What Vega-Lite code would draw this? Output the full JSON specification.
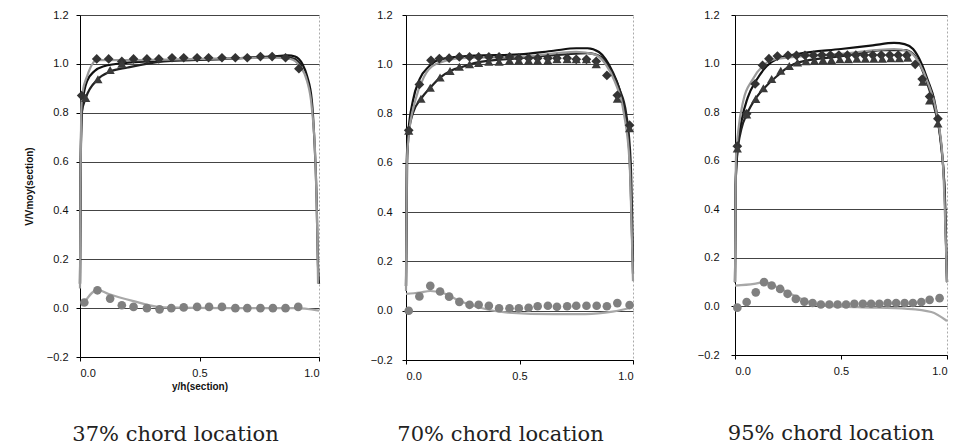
{
"$schema": "https://vega.github.io/schema/vega-lite/v6.json",
"padding": {"left": 23, "top": 8, "right": 0, "bottom": 0},
"background": "white",
"config": {
  "view": {"stroke": "#aaaaaa", "strokeDash": [2, 2]},
  "axis": {"domainColor": "#000", "tickColor": "#000", "tickSize": 4, "labelFont": "Liberation Sans", "labelFontSize": 11, "labelColor": "#111", "titleFont": "Liberation Sans", "titleFontSize": 10, "titleFontWeight": "bold", "titleColor": "#111"},
  "title": {"font": "DejaVu Serif", "fontSize": 21, "fontWeight": "normal", "color": "#222"}
},
"spacing": 58,
"datasets": {"d": [
{"p":"37","s":"calcA","x":0.0,"y":0.1},{"p":"37","s":"calcA","x":0.002,"y":0.5},{"p":"37","s":"calcA","x":0.006,"y":0.75},{"p":"37","s":"calcA","x":0.012,"y":0.85},{"p":"37","s":"calcA","x":0.03,"y":0.93},{"p":"37","s":"calcA","x":0.06,"y":0.97},{"p":"37","s":"calcA","x":0.1,"y":0.99},{"p":"37","s":"calcA","x":0.2,"y":1.005},{"p":"37","s":"calcA","x":0.4,"y":1.015},{"p":"37","s":"calcA","x":0.6,"y":1.02},{"p":"37","s":"calcA","x":0.8,"y":1.03},{"p":"37","s":"calcA","x":0.87,"y":1.035},{"p":"37","s":"calcA","x":0.9,"y":1.03},{"p":"37","s":"calcA","x":0.93,"y":1.0},{"p":"37","s":"calcA","x":0.95,"y":0.95},{"p":"37","s":"calcA","x":0.97,"y":0.85},{"p":"37","s":"calcA","x":0.98,"y":0.7},{"p":"37","s":"calcA","x":0.99,"y":0.45},{"p":"37","s":"calcA","x":0.995,"y":0.2},{"p":"37","s":"calcA","x":1.0,"y":0.1},
{"p":"37","s":"calcB","x":0.0,"y":0.1},{"p":"37","s":"calcB","x":0.003,"y":0.6},{"p":"37","s":"calcB","x":0.007,"y":0.8},{"p":"37","s":"calcB","x":0.024,"y":0.86},{"p":"37","s":"calcB","x":0.075,"y":0.937},{"p":"37","s":"calcB","x":0.126,"y":0.968},{"p":"37","s":"calcB","x":0.2,"y":0.985},{"p":"37","s":"calcB","x":0.35,"y":1.01},{"p":"37","s":"calcB","x":0.6,"y":1.02},{"p":"37","s":"calcB","x":0.85,"y":1.03},{"p":"37","s":"calcB","x":0.9,"y":1.02},{"p":"37","s":"calcB","x":0.93,"y":0.99},
{"p":"37","s":"calcG","x":0.0,"y":0.08},{"p":"37","s":"calcG","x":0.002,"y":0.5},{"p":"37","s":"calcG","x":0.005,"y":0.8},{"p":"37","s":"calcG","x":0.01,"y":0.88},{"p":"37","s":"calcG","x":0.03,"y":0.95},{"p":"37","s":"calcG","x":0.07,"y":1.015},{"p":"37","s":"calcG","x":0.2,"y":1.015},{"p":"37","s":"calcG","x":0.5,"y":1.02},{"p":"37","s":"calcG","x":0.8,"y":1.025},{"p":"37","s":"calcG","x":0.88,"y":1.02},{"p":"37","s":"calcG","x":0.92,"y":0.99},{"p":"37","s":"calcG","x":0.95,"y":0.93},{"p":"37","s":"calcG","x":0.97,"y":0.82},{"p":"37","s":"calcG","x":0.985,"y":0.6},{"p":"37","s":"calcG","x":0.993,"y":0.3},{"p":"37","s":"calcG","x":0.996,"y":0.1},
{"p":"37","s":"calcL","x":0.018,"y":0.023},{"p":"37","s":"calcL","x":0.073,"y":0.075},{"p":"37","s":"calcL","x":0.12,"y":0.058},{"p":"37","s":"calcL","x":0.22,"y":0.03},{"p":"37","s":"calcL","x":0.35,"y":0.003},{"p":"37","s":"calcL","x":0.6,"y":0.0},{"p":"37","s":"calcL","x":0.9,"y":0.0},{"p":"37","s":"calcL","x":1.0,"y":-0.01},
{"p":"37","s":"diamond","x":0.007,"y":0.87},{"p":"37","s":"diamond","x":0.07,"y":1.02},{"p":"37","s":"diamond","x":0.12,"y":1.02},{"p":"37","s":"diamond","x":0.175,"y":1.01},{"p":"37","s":"diamond","x":0.224,"y":1.02},{"p":"37","s":"diamond","x":0.28,"y":1.02},{"p":"37","s":"diamond","x":0.33,"y":1.02},{"p":"37","s":"diamond","x":0.385,"y":1.025},{"p":"37","s":"diamond","x":0.434,"y":1.025},{"p":"37","s":"diamond","x":0.49,"y":1.025},{"p":"37","s":"diamond","x":0.538,"y":1.025},{"p":"37","s":"diamond","x":0.594,"y":1.025},{"p":"37","s":"diamond","x":0.65,"y":1.025},{"p":"37","s":"diamond","x":0.7,"y":1.025},{"p":"37","s":"diamond","x":0.755,"y":1.03},{"p":"37","s":"diamond","x":0.804,"y":1.03},{"p":"37","s":"diamond","x":0.86,"y":1.025},{"p":"37","s":"diamond","x":0.916,"y":0.98},
{"p":"37","s":"triangle","x":0.024,"y":0.86},{"p":"37","s":"triangle","x":0.075,"y":0.937},{"p":"37","s":"triangle","x":0.126,"y":0.975},{"p":"37","s":"triangle","x":0.175,"y":1.0},
{"p":"37","s":"circle","x":0.018,"y":0.023},{"p":"37","s":"circle","x":0.073,"y":0.073},{"p":"37","s":"circle","x":0.126,"y":0.039},{"p":"37","s":"circle","x":0.175,"y":0.012},{"p":"37","s":"circle","x":0.224,"y":0.005},{"p":"37","s":"circle","x":0.28,"y":0.0},{"p":"37","s":"circle","x":0.333,"y":-0.005},{"p":"37","s":"circle","x":0.382,"y":0.0},{"p":"37","s":"circle","x":0.434,"y":0.003},{"p":"37","s":"circle","x":0.49,"y":0.005},{"p":"37","s":"circle","x":0.54,"y":0.005},{"p":"37","s":"circle","x":0.594,"y":0.005},{"p":"37","s":"circle","x":0.65,"y":0.0},{"p":"37","s":"circle","x":0.7,"y":0.0},{"p":"37","s":"circle","x":0.755,"y":0.0},{"p":"37","s":"circle","x":0.807,"y":0.0},{"p":"37","s":"circle","x":0.86,"y":0.0},{"p":"37","s":"circle","x":0.913,"y":0.005},

{"p":"70","s":"calcA","x":0.0,"y":0.1},{"p":"70","s":"calcA","x":0.003,"y":0.6},{"p":"70","s":"calcA","x":0.01,"y":0.72},{"p":"70","s":"calcA","x":0.03,"y":0.85},{"p":"70","s":"calcA","x":0.06,"y":0.94},{"p":"70","s":"calcA","x":0.1,"y":0.99},{"p":"70","s":"calcA","x":0.15,"y":1.02},{"p":"70","s":"calcA","x":0.3,"y":1.035},{"p":"70","s":"calcA","x":0.5,"y":1.04},{"p":"70","s":"calcA","x":0.65,"y":1.055},{"p":"70","s":"calcA","x":0.75,"y":1.065},{"p":"70","s":"calcA","x":0.8,"y":1.065},{"p":"70","s":"calcA","x":0.85,"y":1.05},{"p":"70","s":"calcA","x":0.88,"y":1.02},{"p":"70","s":"calcA","x":0.91,"y":0.97},{"p":"70","s":"calcA","x":0.94,"y":0.9},{"p":"70","s":"calcA","x":0.965,"y":0.8},{"p":"70","s":"calcA","x":0.98,"y":0.7},{"p":"70","s":"calcA","x":0.99,"y":0.5},{"p":"70","s":"calcA","x":1.0,"y":0.15},
{"p":"70","s":"calcB","x":0.0,"y":0.1},{"p":"70","s":"calcB","x":0.005,"y":0.6},{"p":"70","s":"calcB","x":0.012,"y":0.72},{"p":"70","s":"calcB","x":0.03,"y":0.8},{"p":"70","s":"calcB","x":0.066,"y":0.86},{"p":"70","s":"calcB","x":0.107,"y":0.905},{"p":"70","s":"calcB","x":0.15,"y":0.946},{"p":"70","s":"calcB","x":0.2,"y":0.975},{"p":"70","s":"calcB","x":0.25,"y":0.99},{"p":"70","s":"calcB","x":0.3,"y":1.005},{"p":"70","s":"calcB","x":0.5,"y":1.025},{"p":"70","s":"calcB","x":0.7,"y":1.04},{"p":"70","s":"calcB","x":0.8,"y":1.045},{"p":"70","s":"calcB","x":0.86,"y":1.03},{"p":"70","s":"calcB","x":0.9,"y":0.98},{"p":"70","s":"calcB","x":0.94,"y":0.9},{"p":"70","s":"calcB","x":0.97,"y":0.8},{"p":"70","s":"calcB","x":0.99,"y":0.6},{"p":"70","s":"calcB","x":1.0,"y":0.2},
{"p":"70","s":"calcG","x":0.0,"y":0.08},{"p":"70","s":"calcG","x":0.004,"y":0.6},{"p":"70","s":"calcG","x":0.012,"y":0.71},{"p":"70","s":"calcG","x":0.04,"y":0.85},{"p":"70","s":"calcG","x":0.08,"y":0.95},{"p":"70","s":"calcG","x":0.13,"y":1.0},{"p":"70","s":"calcG","x":0.25,"y":1.025},{"p":"70","s":"calcG","x":0.5,"y":1.03},{"p":"70","s":"calcG","x":0.75,"y":1.05},{"p":"70","s":"calcG","x":0.83,"y":1.04},{"p":"70","s":"calcG","x":0.88,"y":1.0},{"p":"70","s":"calcG","x":0.92,"y":0.93},{"p":"70","s":"calcG","x":0.96,"y":0.8},{"p":"70","s":"calcG","x":0.985,"y":0.6},{"p":"70","s":"calcG","x":0.995,"y":0.3},{"p":"70","s":"calcG","x":1.0,"y":0.12},
{"p":"70","s":"calcL","x":0.0,"y":0.068},{"p":"70","s":"calcL","x":0.06,"y":0.074},{"p":"70","s":"calcL","x":0.107,"y":0.08},{"p":"70","s":"calcL","x":0.176,"y":0.068},{"p":"70","s":"calcL","x":0.235,"y":0.04},{"p":"70","s":"calcL","x":0.32,"y":0.014},{"p":"70","s":"calcL","x":0.44,"y":-0.007},{"p":"70","s":"calcL","x":0.65,"y":-0.014},{"p":"70","s":"calcL","x":0.79,"y":-0.014},{"p":"70","s":"calcL","x":0.91,"y":-0.004},{"p":"70","s":"calcL","x":1.0,"y":0.014},
{"p":"70","s":"diamond","x":0.012,"y":0.732},{"p":"70","s":"diamond","x":0.059,"y":0.918},{"p":"70","s":"diamond","x":0.11,"y":1.016},{"p":"70","s":"diamond","x":0.147,"y":1.023},{"p":"70","s":"diamond","x":0.19,"y":1.025},{"p":"70","s":"diamond","x":0.235,"y":1.03},{"p":"70","s":"diamond","x":0.28,"y":1.03},{"p":"70","s":"diamond","x":0.32,"y":1.03},{"p":"70","s":"diamond","x":0.365,"y":1.03},{"p":"70","s":"diamond","x":0.41,"y":1.03},{"p":"70","s":"diamond","x":0.456,"y":1.03},{"p":"70","s":"diamond","x":0.497,"y":1.025},{"p":"70","s":"diamond","x":0.54,"y":1.025},{"p":"70","s":"diamond","x":0.58,"y":1.025},{"p":"70","s":"diamond","x":0.625,"y":1.025},{"p":"70","s":"diamond","x":0.665,"y":1.025},{"p":"70","s":"diamond","x":0.71,"y":1.025},{"p":"70","s":"diamond","x":0.75,"y":1.02},{"p":"70","s":"diamond","x":0.795,"y":1.02},{"p":"70","s":"diamond","x":0.838,"y":1.012},{"p":"70","s":"diamond","x":0.885,"y":0.955},{"p":"70","s":"diamond","x":0.931,"y":0.874},{"p":"70","s":"diamond","x":0.985,"y":0.753},
{"p":"70","s":"triangle","x":0.012,"y":0.73},{"p":"70","s":"triangle","x":0.066,"y":0.86},{"p":"70","s":"triangle","x":0.107,"y":0.905},{"p":"70","s":"triangle","x":0.15,"y":0.946},{"p":"70","s":"triangle","x":0.194,"y":0.973},{"p":"70","s":"triangle","x":0.235,"y":0.99},{"p":"70","s":"triangle","x":0.28,"y":1.0},{"p":"70","s":"triangle","x":0.32,"y":1.005},{"p":"70","s":"triangle","x":0.365,"y":1.01},{"p":"70","s":"triangle","x":0.41,"y":1.01},{"p":"70","s":"triangle","x":0.456,"y":1.015},{"p":"70","s":"triangle","x":0.497,"y":1.015},{"p":"70","s":"triangle","x":0.54,"y":1.015},{"p":"70","s":"triangle","x":0.58,"y":1.015},{"p":"70","s":"triangle","x":0.625,"y":1.015},{"p":"70","s":"triangle","x":0.665,"y":1.02},{"p":"70","s":"triangle","x":0.71,"y":1.02},{"p":"70","s":"triangle","x":0.75,"y":1.02},{"p":"70","s":"triangle","x":0.795,"y":1.02},{"p":"70","s":"triangle","x":0.838,"y":1.0},{"p":"70","s":"triangle","x":0.931,"y":0.86},{"p":"70","s":"triangle","x":0.985,"y":0.74},
{"p":"70","s":"circle","x":0.012,"y":0.0},{"p":"70","s":"circle","x":0.059,"y":0.058},{"p":"70","s":"circle","x":0.107,"y":0.101},{"p":"70","s":"circle","x":0.15,"y":0.078},{"p":"70","s":"circle","x":0.19,"y":0.057},{"p":"70","s":"circle","x":0.235,"y":0.036},{"p":"70","s":"circle","x":0.28,"y":0.024},{"p":"70","s":"circle","x":0.32,"y":0.024},{"p":"70","s":"circle","x":0.365,"y":0.02},{"p":"70","s":"circle","x":0.41,"y":0.01},{"p":"70","s":"circle","x":0.456,"y":0.01},{"p":"70","s":"circle","x":0.497,"y":0.01},{"p":"70","s":"circle","x":0.54,"y":0.012},{"p":"70","s":"circle","x":0.58,"y":0.018},{"p":"70","s":"circle","x":0.625,"y":0.02},{"p":"70","s":"circle","x":0.665,"y":0.016},{"p":"70","s":"circle","x":0.71,"y":0.018},{"p":"70","s":"circle","x":0.75,"y":0.02},{"p":"70","s":"circle","x":0.795,"y":0.02},{"p":"70","s":"circle","x":0.84,"y":0.02},{"p":"70","s":"circle","x":0.885,"y":0.018},{"p":"70","s":"circle","x":0.931,"y":0.031},{"p":"70","s":"circle","x":0.985,"y":0.023},

{"p":"95","s":"calcA","x":0.0,"y":0.1},{"p":"95","s":"calcA","x":0.003,"y":0.5},{"p":"95","s":"calcA","x":0.01,"y":0.63},{"p":"95","s":"calcA","x":0.03,"y":0.76},{"p":"95","s":"calcA","x":0.06,"y":0.86},{"p":"95","s":"calcA","x":0.1,"y":0.93},{"p":"95","s":"calcA","x":0.15,"y":0.99},{"p":"95","s":"calcA","x":0.2,"y":1.02},{"p":"95","s":"calcA","x":0.3,"y":1.04},{"p":"95","s":"calcA","x":0.5,"y":1.06},{"p":"95","s":"calcA","x":0.65,"y":1.075},{"p":"95","s":"calcA","x":0.75,"y":1.085},{"p":"95","s":"calcA","x":0.8,"y":1.08},{"p":"95","s":"calcA","x":0.84,"y":1.06},{"p":"95","s":"calcA","x":0.88,"y":1.0},{"p":"95","s":"calcA","x":0.91,"y":0.93},{"p":"95","s":"calcA","x":0.94,"y":0.85},{"p":"95","s":"calcA","x":0.96,"y":0.75},{"p":"95","s":"calcA","x":0.98,"y":0.6},{"p":"95","s":"calcA","x":0.99,"y":0.45},{"p":"95","s":"calcA","x":1.0,"y":0.1},
{"p":"95","s":"calcB","x":0.0,"y":0.1},{"p":"95","s":"calcB","x":0.003,"y":0.5},{"p":"95","s":"calcB","x":0.01,"y":0.62},{"p":"95","s":"calcB","x":0.03,"y":0.73},{"p":"95","s":"calcB","x":0.055,"y":0.79},{"p":"95","s":"calcB","x":0.1,"y":0.86},{"p":"95","s":"calcB","x":0.15,"y":0.91},{"p":"95","s":"calcB","x":0.2,"y":0.95},{"p":"95","s":"calcB","x":0.25,"y":0.985},{"p":"95","s":"calcB","x":0.3,"y":1.005},{"p":"95","s":"calcB","x":0.5,"y":1.03},{"p":"95","s":"calcB","x":0.7,"y":1.055},{"p":"95","s":"calcB","x":0.8,"y":1.055},{"p":"95","s":"calcB","x":0.84,"y":1.04},{"p":"95","s":"calcB","x":0.88,"y":0.98},{"p":"95","s":"calcB","x":0.91,"y":0.91},{"p":"95","s":"calcB","x":0.94,"y":0.82},{"p":"95","s":"calcB","x":0.97,"y":0.68},{"p":"95","s":"calcB","x":0.99,"y":0.45},{"p":"95","s":"calcB","x":1.0,"y":0.1},
{"p":"95","s":"calcG","x":0.0,"y":0.1},{"p":"95","s":"calcG","x":0.004,"y":0.6},{"p":"95","s":"calcG","x":0.015,"y":0.72},{"p":"95","s":"calcG","x":0.04,"y":0.85},{"p":"95","s":"calcG","x":0.08,"y":0.93},{"p":"95","s":"calcG","x":0.13,"y":0.99},{"p":"95","s":"calcG","x":0.2,"y":1.02},{"p":"95","s":"calcG","x":0.5,"y":1.04},{"p":"95","s":"calcG","x":0.75,"y":1.06},{"p":"95","s":"calcG","x":0.82,"y":1.05},{"p":"95","s":"calcG","x":0.87,"y":1.0},{"p":"95","s":"calcG","x":0.91,"y":0.92},{"p":"95","s":"calcG","x":0.95,"y":0.8},{"p":"95","s":"calcG","x":0.98,"y":0.6},{"p":"95","s":"calcG","x":1.0,"y":0.1},
{"p":"95","s":"calcL","x":0.0,"y":0.086},{"p":"95","s":"calcL","x":0.09,"y":0.093},{"p":"95","s":"calcL","x":0.137,"y":0.1},{"p":"95","s":"calcL","x":0.2,"y":0.079},{"p":"95","s":"calcL","x":0.295,"y":0.038},{"p":"95","s":"calcL","x":0.405,"y":0.004},{"p":"95","s":"calcL","x":0.58,"y":-0.003},{"p":"95","s":"calcL","x":0.815,"y":-0.01},{"p":"95","s":"calcL","x":0.926,"y":-0.023},{"p":"95","s":"calcL","x":1.0,"y":-0.06},
{"p":"95","s":"diamond","x":0.011,"y":0.66},{"p":"95","s":"diamond","x":0.055,"y":0.793},{"p":"95","s":"diamond","x":0.095,"y":0.916},{"p":"95","s":"diamond","x":0.13,"y":0.993},{"p":"95","s":"diamond","x":0.16,"y":1.02},{"p":"95","s":"diamond","x":0.2,"y":1.031},{"p":"95","s":"diamond","x":0.25,"y":1.034},{"p":"95","s":"diamond","x":0.29,"y":1.034},{"p":"95","s":"diamond","x":0.33,"y":1.034},{"p":"95","s":"diamond","x":0.37,"y":1.034},{"p":"95","s":"diamond","x":0.41,"y":1.035},{"p":"95","s":"diamond","x":0.45,"y":1.035},{"p":"95","s":"diamond","x":0.49,"y":1.035},{"p":"95","s":"diamond","x":0.53,"y":1.035},{"p":"95","s":"diamond","x":0.57,"y":1.035},{"p":"95","s":"diamond","x":0.61,"y":1.035},{"p":"95","s":"diamond","x":0.65,"y":1.035},{"p":"95","s":"diamond","x":0.69,"y":1.035},{"p":"95","s":"diamond","x":0.73,"y":1.035},{"p":"95","s":"diamond","x":0.77,"y":1.035},{"p":"95","s":"diamond","x":0.81,"y":1.034},{"p":"95","s":"diamond","x":0.85,"y":0.997},{"p":"95","s":"diamond","x":0.883,"y":0.936},{"p":"95","s":"diamond","x":0.918,"y":0.864},{"p":"95","s":"diamond","x":0.957,"y":0.773},
{"p":"95","s":"triangle","x":0.011,"y":0.65},{"p":"95","s":"triangle","x":0.055,"y":0.79},{"p":"95","s":"triangle","x":0.098,"y":0.854},{"p":"95","s":"triangle","x":0.134,"y":0.898},{"p":"95","s":"triangle","x":0.173,"y":0.936},{"p":"95","s":"triangle","x":0.216,"y":0.97},{"p":"95","s":"triangle","x":0.256,"y":0.99},{"p":"95","s":"triangle","x":0.295,"y":1.004},{"p":"95","s":"triangle","x":0.335,"y":1.01},{"p":"95","s":"triangle","x":0.375,"y":1.012},{"p":"95","s":"triangle","x":0.415,"y":1.015},{"p":"95","s":"triangle","x":0.455,"y":1.015},{"p":"95","s":"triangle","x":0.495,"y":1.018},{"p":"95","s":"triangle","x":0.535,"y":1.018},{"p":"95","s":"triangle","x":0.575,"y":1.02},{"p":"95","s":"triangle","x":0.615,"y":1.02},{"p":"95","s":"triangle","x":0.655,"y":1.02},{"p":"95","s":"triangle","x":0.695,"y":1.02},{"p":"95","s":"triangle","x":0.735,"y":1.022},{"p":"95","s":"triangle","x":0.775,"y":1.022},{"p":"95","s":"triangle","x":0.815,"y":1.024},{"p":"95","s":"triangle","x":0.886,"y":0.925},{"p":"95","s":"triangle","x":0.918,"y":0.848},{"p":"95","s":"triangle","x":0.957,"y":0.753},
{"p":"95","s":"circle","x":0.011,"y":-0.005},{"p":"95","s":"circle","x":0.055,"y":0.018},{"p":"95","s":"circle","x":0.098,"y":0.058},{"p":"95","s":"circle","x":0.137,"y":0.1},{"p":"95","s":"circle","x":0.173,"y":0.086},{"p":"95","s":"circle","x":0.213,"y":0.072},{"p":"95","s":"circle","x":0.248,"y":0.052},{"p":"95","s":"circle","x":0.287,"y":0.031},{"p":"95","s":"circle","x":0.327,"y":0.02},{"p":"95","s":"circle","x":0.366,"y":0.014},{"p":"95","s":"circle","x":0.405,"y":0.008},{"p":"95","s":"circle","x":0.445,"y":0.008},{"p":"95","s":"circle","x":0.484,"y":0.008},{"p":"95","s":"circle","x":0.524,"y":0.008},{"p":"95","s":"circle","x":0.563,"y":0.011},{"p":"95","s":"circle","x":0.603,"y":0.011},{"p":"95","s":"circle","x":0.642,"y":0.011},{"p":"95","s":"circle","x":0.681,"y":0.011},{"p":"95","s":"circle","x":0.72,"y":0.014},{"p":"95","s":"circle","x":0.76,"y":0.014},{"p":"95","s":"circle","x":0.8,"y":0.014},{"p":"95","s":"circle","x":0.839,"y":0.014},{"p":"95","s":"circle","x":0.879,"y":0.018},{"p":"95","s":"circle","x":0.918,"y":0.027},{"p":"95","s":"circle","x":0.965,"y":0.034}
]},
"hconcat": [
{
"spacing": 45,
"hconcat": [
{
  "width": 239, "height": 342,
  "title": {"text": "37% chord location", "orient": "bottom", "offset": 33, "anchor": "middle", "dx": -24},
  "data": {"name": "d"},
  "transform": [{"filter": "datum.p == '37'"}],
  "encoding": {
    "x": {"field": "x", "type": "quantitative", "scale": {"domain": [0, 1], "nice": false, "zero": false}, "axis": {"values": [0, 0.5, 1], "format": ".1f", "grid": false, "title": "y/h(section)", "labelPadding": 6, "titlePadding": 3}},
    "y": {"field": "y", "type": "quantitative", "scale": {"domain": [-0.2, 1.2], "nice": false, "zero": false}, "axis": {"values": [-0.2, 0, 0.2, 0.4, 0.6, 0.8, 1, 1.2], "format": ".1f", "grid": true, "gridColor": "#444", "title": "V/Vmoy(section)", "labelPadding": 8, "titlePadding": 12}}
  },
  "layer": [
    {"transform": [{"filter": "indexof(['calcA','calcB','calcG','calcL'], datum.s) >= 0"}], "mark": {"type": "line", "interpolate": "monotone", "strokeWidth": 2.2}, "encoding": {"color": {"field": "s", "type": "nominal", "legend": null, "scale": {"domain": ["calcA","calcB","calcG","calcL","diamond","triangle","circle"], "range": ["#111111","#222222","#9a9a9a","#a8a8a8","#333333","#3a3a3a","#808080"]}}}},
    {"transform": [{"filter": "indexof(['diamond','triangle','circle'], datum.s) >= 0"}], "mark": {"type": "point", "filled": true, "opacity": 1}, "encoding": {"color": {"field": "s", "type": "nominal", "legend": null, "scale": {"domain": ["calcA","calcB","calcG","calcL","diamond","triangle","circle"], "range": ["#111111","#222222","#9a9a9a","#a8a8a8","#333333","#3a3a3a","#808080"]}}, "shape": {"field": "s", "type": "nominal", "legend": null, "scale": {"domain": ["diamond","triangle","circle"], "range": ["diamond","triangle-up","circle"]}}, "size": {"field": "s", "type": "nominal", "legend": null, "scale": {"domain": ["diamond","triangle","circle"], "range": [95, 75, 75]}}}}
  ]
},
{
  "width": 227, "height": 345,
  "title": {"text": "70% chord location", "orient": "bottom", "offset": 43, "anchor": "middle", "dx": -19},
  "data": {"name": "d"},
  "transform": [{"filter": "datum.p == '70'"}],
  "encoding": {
    "x": {"field": "x", "type": "quantitative", "scale": {"domain": [0, 1], "nice": false, "zero": false}, "axis": {"values": [0, 0.5, 1], "format": ".1f", "grid": false, "title": null, "labelPadding": 6}},
    "y": {"field": "y", "type": "quantitative", "scale": {"domain": [-0.2, 1.2], "nice": false, "zero": false}, "axis": {"values": [-0.2, 0, 0.2, 0.4, 0.6, 0.8, 1, 1.2], "format": ".1f", "grid": true, "gridColor": "#444", "title": null, "labelPadding": 10}}
  },
  "layer": [
    {"transform": [{"filter": "indexof(['calcA','calcB','calcG','calcL'], datum.s) >= 0"}], "mark": {"type": "line", "interpolate": "monotone", "strokeWidth": 2.2}, "encoding": {"color": {"field": "s", "type": "nominal", "legend": null, "scale": {"domain": ["calcA","calcB","calcG","calcL","diamond","triangle","circle"], "range": ["#111111","#222222","#9a9a9a","#a8a8a8","#333333","#3a3a3a","#808080"]}}}},
    {"transform": [{"filter": "indexof(['diamond','triangle','circle'], datum.s) >= 0"}], "mark": {"type": "point", "filled": true, "opacity": 1}, "encoding": {"color": {"field": "s", "type": "nominal", "legend": null, "scale": {"domain": ["calcA","calcB","calcG","calcL","diamond","triangle","circle"], "range": ["#111111","#222222","#9a9a9a","#a8a8a8","#333333","#3a3a3a","#808080"]}}, "shape": {"field": "s", "type": "nominal", "legend": null, "scale": {"domain": ["diamond","triangle","circle"], "range": ["diamond","triangle-up","circle"]}}, "size": {"field": "s", "type": "nominal", "legend": null, "scale": {"domain": ["diamond","triangle","circle"], "range": [95, 75, 75]}}}}
  ]
}
]
},
{
  "width": 212, "height": 340,
  "title": {"text": "95% chord location", "orient": "bottom", "offset": 47, "anchor": "middle", "dx": -10},
  "data": {"name": "d"},
  "transform": [{"filter": "datum.p == '95'"}],
  "encoding": {
    "x": {"field": "x", "type": "quantitative", "scale": {"domain": [0, 1], "nice": false, "zero": false}, "axis": {"values": [0, 0.5, 1], "format": ".1f", "grid": false, "title": null, "labelPadding": 6}},
    "y": {"field": "y", "type": "quantitative", "scale": {"domain": [-0.2, 1.2], "nice": false, "zero": false}, "axis": {"values": [-0.2, 0, 0.2, 0.4, 0.6, 0.8, 1, 1.2], "format": ".1f", "grid": true, "gridColor": "#444", "title": null, "labelPadding": 12}}
  },
  "layer": [
    {"transform": [{"filter": "indexof(['calcA','calcB','calcG','calcL'], datum.s) >= 0"}], "mark": {"type": "line", "interpolate": "monotone", "strokeWidth": 2.2}, "encoding": {"color": {"field": "s", "type": "nominal", "legend": null, "scale": {"domain": ["calcA","calcB","calcG","calcL","diamond","triangle","circle"], "range": ["#111111","#222222","#9a9a9a","#a8a8a8","#333333","#3a3a3a","#808080"]}}}},
    {"transform": [{"filter": "indexof(['diamond','triangle','circle'], datum.s) >= 0"}], "mark": {"type": "point", "filled": true, "opacity": 1}, "encoding": {"color": {"field": "s", "type": "nominal", "legend": null, "scale": {"domain": ["calcA","calcB","calcG","calcL","diamond","triangle","circle"], "range": ["#111111","#222222","#9a9a9a","#a8a8a8","#333333","#3a3a3a","#808080"]}}, "shape": {"field": "s", "type": "nominal", "legend": null, "scale": {"domain": ["diamond","triangle","circle"], "range": ["diamond","triangle-up","circle"]}}, "size": {"field": "s", "type": "nominal", "legend": null, "scale": {"domain": ["diamond","triangle","circle"], "range": [95, 75, 75]}}}}
  ]
}
]
}
